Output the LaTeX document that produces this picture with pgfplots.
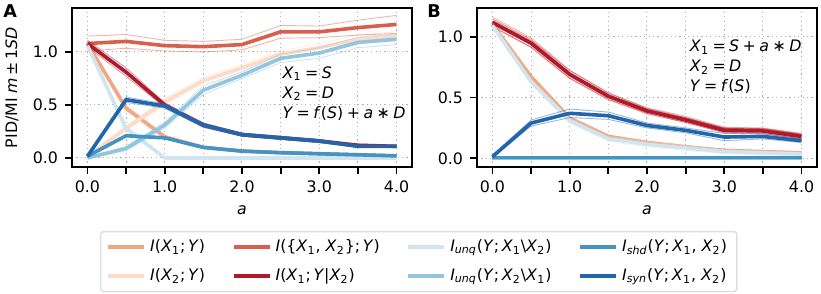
\documentclass[border=0pt]{standalone}
\usepackage{fontspec}
\setmainfont{DejaVu Sans}
\usepackage{pgfplots}
\usepackage{pgfplotstable}
\pgfplotsset{compat=1.18}

\definecolor{cO}{HTML}{F4A582}
\definecolor{cP}{HTML}{FDDBC7}
\definecolor{cR}{HTML}{D6604D}
\definecolor{cD}{HTML}{B2182B}
\definecolor{cU}{HTML}{D1E5F0}
\definecolor{cV}{HTML}{92C5DE}
\definecolor{cS}{HTML}{4393C3}
\definecolor{cY}{HTML}{2166AC}

\newcommand{\mi}[1]{\textit{#1}}
\newcommand{\sub}[1]{\textsubscript{#1}}
\newcommand{\op}[1]{\hspace{0.22em}#1\hspace{0.22em}}

% panel A
\pgfplotstableread{
a   o     osd   p     psd   j     jsd   c     csd   u     usd   v     vsd   s     ssd   y     ysd
0.0 1.08  0.02  0.016 0.01  1.08  0.07  1.08  0.03  1.06  0.02  0.00  0.005 0.016 0.01  0.016 0.01
0.5 0.47  0.02  0.28  0.02  1.10  0.065 0.81  0.04  0.28  0.02  0.09  0.02  0.21  0.01  0.55  0.025
1.0 0.20  0.015 0.53  0.03  1.06  0.05  0.50  0.02  0.00  0.00  0.31  0.03  0.19  0.01  0.49  0.02
1.5 0.10  0.01  0.73  0.03  1.05  0.05  0.31  0.02  0.00  0.00  0.64  0.04  0.10  0.01  0.31  0.02
2.0 0.065 0.01  0.85  0.03  1.07  0.05  0.22  0.015 0.00  0.00  0.78  0.03  0.065 0.01  0.22  0.015
2.5 0.05  0.01  0.98  0.03  1.19  0.06  0.19  0.015 0.00  0.00  0.94  0.04  0.05  0.01  0.19  0.015
3.0 0.04  0.01  1.04  0.04  1.19  0.055 0.16  0.015 0.00  0.00  0.99  0.05  0.04  0.01  0.16  0.015
3.5 0.03  0.01  1.12  0.04  1.23  0.07  0.12  0.01  0.00  0.00  1.09  0.05  0.03  0.01  0.11  0.01
4.0 0.02  0.01  1.15  0.04  1.26  0.085 0.11  0.01  0.00  0.00  1.12  0.05  0.02  0.01  0.11  0.01
}\tabA

% panel B
\pgfplotstableread{
a   o     osd   p     psd   j     jsd   c     csd   u     usd   v     vsd   s     ssd   y     ysd
0.0 1.10  0.01  0.005 0.002 1.12  0.04  1.115 0.03  1.09  0.02  0.005 0.002 0.006 0.002 0.014 0.01
0.5 0.67  0.01  0.005 0.002 0.95  0.04  0.945 0.03  0.63  0.02  0.005 0.002 0.006 0.002 0.29  0.025
1.0 0.33  0.01  0.005 0.002 0.69  0.035 0.69  0.03  0.31  0.02  0.005 0.002 0.006 0.002 0.37  0.035
1.5 0.18  0.01  0.005 0.002 0.51  0.03  0.51  0.025 0.16  0.02  0.005 0.002 0.006 0.002 0.35  0.03
2.0 0.13  0.01  0.005 0.002 0.39  0.025 0.39  0.02  0.115 0.02  0.005 0.002 0.006 0.002 0.27  0.02
2.5 0.095 0.01  0.005 0.002 0.32  0.025 0.315 0.02  0.085 0.02  0.005 0.002 0.006 0.002 0.23  0.02
3.0 0.065 0.01  0.005 0.002 0.235 0.02  0.23  0.02  0.055 0.015 0.005 0.002 0.006 0.002 0.175 0.03
3.5 0.055 0.01  0.005 0.002 0.23  0.02  0.225 0.02  0.045 0.015 0.005 0.002 0.006 0.002 0.18  0.02
4.0 0.045 0.01  0.005 0.002 0.185 0.02  0.18  0.02  0.035 0.015 0.005 0.002 0.006 0.002 0.145 0.015
}\tabB

\newcommand{\series}[3]{%
  \addplot[color=#3, line width=0.45pt, opacity=0.45, forget plot]
    table[x=a, y expr=\thisrow{#2}+\thisrow{#2sd}] {#1};
  \addplot[color=#3, line width=0.45pt, opacity=0.45, forget plot]
    table[x=a, y expr=\thisrow{#2}-\thisrow{#2sd}] {#1};
  \addplot[color=#3, line width=1.8pt] table[x=a, y=#2] {#1};
}

\newcommand{\fs}{\fontsize{7.9}{10}\selectfont}

\pgfplotsset{panel/.style={
  width=170pt, height=79.5pt, scale only axis,
  clip mode=individual,
  xmin=-0.2, xmax=4.2,
  xtick={0,0.5,...,4}, xticklabels={0.0,,1.0,,2.0,,3.0,,4.0},
  ytick={0,0.5,1}, yticklabels={0.0,0.5,1.0},
  xtick pos=bottom, ytick pos=left,
  tick align=outside, major tick length=3.5pt,
  grid=major,
  grid style={gray!60, line width=0.5pt, dash pattern=on 0.6pt off 1.6pt},
  axis line style={line width=0.9pt},
  tick style={black, line width=0.9pt},
  tick label style={font=\fs},
  xlabel={\mi{a}},
  xlabel style={font=\fs, at={(axis description cs:0.5,-0.27)}, anchor=center},
  every axis plot/.append style={line join=round},
  legend image code/.code={\draw[#1, line width=1.8pt] (0pt,0pt) -- (18pt,0pt);},
}}

\begin{document}
\begin{tikzpicture}
\useasboundingbox (0,0) rectangle (410.5pt,147pt);

\begin{axis}[panel, at={(36pt,63.5pt)}, anchor=south west,
  ymin=-0.085, ymax=1.415,
  ylabel={PID/MI \mi{m}\,±\,1\mi{SD}},
  ylabel style={font=\fs, at={(axis description cs:-0.1765,0.5)}, anchor=center},
  transpose legend, legend columns=2, legend cell align=left,
  legend style={at={(rel axis cs:1.02,-0.595)}, anchor=center,
    draw=gray!25, line width=0.7pt, rounded corners=1.5pt,
    font=\fs,
    /tikz/every even column/.append style={column sep=11.5pt},
    row sep=3pt},
]
\series{\tabA}{o}{cO}
\series{\tabA}{p}{cP}
\series{\tabA}{j}{cR}
\series{\tabA}{c}{cD}
\series{\tabA}{u}{cU}
\series{\tabA}{v}{cV}
\series{\tabA}{s}{cS}
\series{\tabA}{y}{cY}
\legend{
  {\mi{I}(\mi{X}\sub{1};\,\mi{Y})},
  {\mi{I}(\mi{X}\sub{2};\,\mi{Y})},
  {\mi{I}(\{\mi{X}\sub{1}, \mi{X}\sub{2}\};\,\mi{Y})},
  {\mi{I}(\mi{X}\sub{1};\,\mi{Y}|\mi{X}\sub{2})},
  {\mi{I}\sub{\mi{unq}}(\mi{Y};\,\mi{X}\sub{1}\textbackslash\mi{X}\sub{2})},
  {\mi{I}\sub{\mi{unq}}(\mi{Y};\,\mi{X}\sub{2}\textbackslash\mi{X}\sub{1})},
  {\mi{I}\sub{\mi{shd}}(\mi{Y};\,\mi{X}\sub{1}, \mi{X}\sub{2})},
  {\mi{I}\sub{\mi{syn}}(\mi{Y};\,\mi{X}\sub{1}, \mi{X}\sub{2})}
}
\node[anchor=west, align=left, font=\fs, inner sep=0pt]
  at (axis cs:2.52,0.61)
  {\mi{X}\sub{1}\op{=}\mi{S}\\ \mi{X}\sub{2}\op{=}\mi{D}\\ \mi{Y}\op{=}\mi{f}(\mi{S})\op{+}\mi{a}\op{∗}\mi{D}};
\end{axis}

\begin{axis}[panel, at={(238.5pt,63.5pt)}, anchor=south west,
  ymin=-0.071, ymax=1.235,
]
\series{\tabB}{o}{cO}
\series{\tabB}{p}{cP}
\series{\tabB}{j}{cR}
\series{\tabB}{c}{cD}
\series{\tabB}{u}{cU}
\series{\tabB}{v}{cV}
\series{\tabB}{s}{cS}
\series{\tabB}{y}{cY}
\node[anchor=west, align=left, font=\fs, inner sep=0pt]
  at (axis cs:2.55,0.75)
  {\mi{X}\sub{1}\op{=}\mi{S}\op{+}\mi{a}\op{∗}\mi{D}\\ \mi{X}\sub{2}\op{=}\mi{D}\\ \mi{Y}\op{=}\mi{f}(\mi{S})};
\end{axis}

\node[anchor=north west, inner sep=0pt, font=\fontsize{8.8}{10}\selectfont\bfseries] at (1.5pt,145pt) {A};
\node[anchor=north west, inner sep=0pt, font=\fontsize{8.8}{10}\selectfont\bfseries] at (213.5pt,145pt) {B};
\end{tikzpicture}
\end{document}
